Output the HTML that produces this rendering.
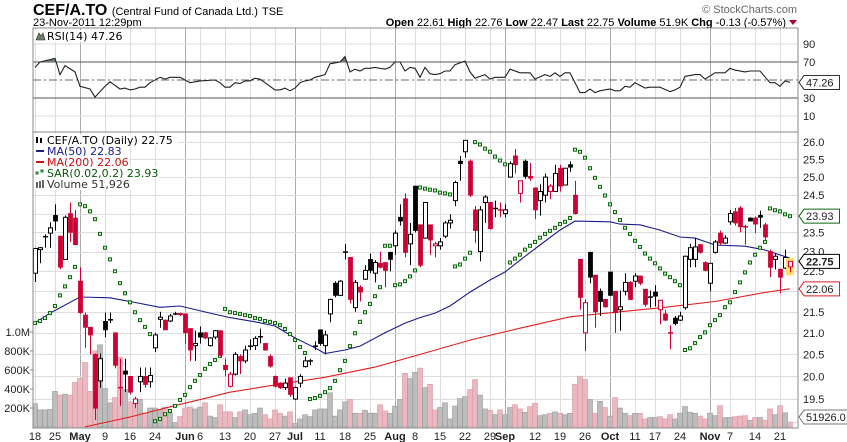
<!DOCTYPE html>
<html><head><meta charset="utf-8">
<style>
html,body{margin:0;padding:0;background:#fff;}
svg{display:block;font-family:"Liberation Sans",Arial,sans-serif;}
.lg{font-family:"DejaVu Sans",sans-serif;font-size:11px;}
.ax{font-size:11px;fill:#222;}
</style></head>
<body>
<svg id="chart" width="847" height="442" viewBox="0 0 847 442" xmlns="http://www.w3.org/2000/svg">
  <rect x="0" y="0" width="847" height="442" fill="#fff"/>
  <g>
    <text x="33" y="15" font-size="16" font-weight="bold" fill="#000">CEF/A.TO <tspan font-size="11" font-weight="normal">(Central Fund of Canada Ltd.)</tspan><tspan font-size="11" font-weight="normal" dx="4">TSE</tspan></text>
    <text x="33" y="26" font-size="11" fill="#000">23-Nov-2011 12:29pm</text>
    <text x="797" y="13" font-size="11" fill="#666" text-anchor="end">© StockCharts.com</text>
    <text x="786" y="26" font-size="11" fill="#000" text-anchor="end"><tspan font-weight="bold">Open</tspan> 22.61 <tspan font-weight="bold">High</tspan> 22.76 <tspan font-weight="bold">Low</tspan> 22.47 <tspan font-weight="bold">Last</tspan> 22.75 <tspan font-weight="bold">Volume</tspan> 51.9K <tspan font-weight="bold">Chg</tspan> -0.13 (-0.57%)</text>
    <polygon points="789,20 797,20 793,25" fill="#b00030"/>
  </g>
  <g id="grid"></g>
  <g id="rsi"></g>
  <g id="main"></g>
  <g id="labels"></g>
  <rect x="33" y="28" width="765" height="104" fill="none" stroke="#888"/>
  <rect x="33" y="132" width="765" height="296" fill="none" stroke="#888"/>
</svg>
<script>
const opens=[22.45,23.05,23.39,23.48,23.95,23.4,22.8,24.0,23.88,22.25,21.42,21.13,20.5,19.9,21.27,21.3,21.0,19.76,20.12,20.0,19.4,19.88,20.0,19.88,20.65,21.32,21.3,21.28,21.46,21.46,21.45,21.1,20.7,21.0,21.0,20.7,20.9,21.05,20.25,19.78,20.05,20.45,20.35,20.69,20.7,20.91,20.75,20.45,20.0,19.85,19.75,19.97,19.5,19.85,20.22,20.36,20.69,21.07,20.7,21.45,22.2,21.9,22.99,22.85,21.6,22.1,22.3,22.8,22.45,22.7,22.72,22.98,23.15,23.9,24.4,23.2,24.75,23.7,23.35,23.7,23.15,23.15,23.4,23.75,24.35,25.45,25.72,25.45,24.1,23.0,24.3,24.3,24.14,24.11,24.0,25.0,25.6,24.55,25.45,25.02,24.7,24.35,24.5,24.6,24.6,25.25,24.78,25.35,24.5,22.8,21.0,22.98,22.4,22.0,21.8,22.48,22.0,21.55,22.0,22.22,22.25,22.38,22.05,21.87,21.98,21.55,21.45,21.01,21.35,21.3,21.6,22.8,22.8,23.18,22.72,22.2,22.98,23.48,23.22,23.78,24.05,24.15,23.66,23.88,23.88,23.95,23.7,23.0,22.8,22.55,22.58,22.61];
const highs=[23.1,23.12,23.45,23.77,24.25,23.4,23.95,24.3,24.1,22.6,21.48,21.13,20.52,20.52,21.48,21.48,21.0,20.4,20.4,20.0,19.55,20.2,20.2,20.2,21.0,21.5,21.32,21.45,21.5,21.48,21.45,21.1,21.05,21.15,21.02,20.9,21.07,21.05,20.4,20.1,20.55,20.5,20.7,20.85,20.92,21.1,20.75,20.5,20.02,19.87,19.95,19.97,19.77,20.05,20.45,20.4,20.8,21.07,21.05,21.82,22.25,22.28,23.2,22.85,22.28,22.15,22.65,22.95,22.78,23.0,22.72,23.0,23.55,24.25,24.55,23.75,24.75,23.7,24.3,23.7,23.25,23.35,23.8,23.98,24.9,25.6,26.05,25.5,24.2,24.2,24.5,24.3,24.35,24.3,24.25,25.45,25.8,24.9,25.5,25.4,24.7,24.8,25.1,24.8,25.35,25.35,25.25,25.45,24.9,22.8,21.8,23.0,22.4,22.07,21.8,22.48,22.0,22.02,22.45,22.25,22.45,22.38,22.05,22.02,22.15,21.78,21.55,21.18,21.4,21.5,22.9,23.2,23.35,23.18,22.75,22.7,23.3,23.55,23.42,24.1,24.15,24.2,23.7,23.9,23.92,24.08,23.75,23.05,22.95,22.55,23.05,22.76];
const lows=[22.23,22.7,23.1,23.1,23.55,22.55,22.8,23.25,23.18,21.45,20.65,20.5,19.05,19.75,20.9,21.23,20.18,19.35,19.65,19.6,19.3,19.65,19.75,19.75,20.55,21.12,21.07,21.25,21.42,21.4,20.75,20.35,20.35,20.75,20.85,20.68,20.85,20.45,20.0,19.75,20.02,20.05,20.3,20.6,20.6,20.75,20.58,20.2,19.75,19.72,19.7,19.55,19.48,19.75,20.2,20.25,20.6,20.7,20.5,21.25,21.85,21.88,22.8,21.7,21.5,21.75,22.28,22.45,22.22,22.57,22.1,22.5,22.92,23.68,22.85,22.65,23.5,22.6,23.33,22.92,22.85,23.05,23.35,23.6,24.2,24.9,25.55,24.45,23.22,22.75,23.75,23.57,23.9,23.9,23.9,25.0,25.1,24.3,24.95,24.9,23.85,23.95,24.3,24.4,24.6,24.6,24.78,25.15,23.98,21.55,20.58,22.2,21.12,21.4,21.6,21.88,21.0,21.05,21.9,21.78,22.1,22.15,21.62,21.6,21.63,21.2,21.28,20.62,21.18,21.28,21.55,22.6,22.6,22.95,22.5,22.0,22.95,23.18,23.2,23.7,23.68,23.5,23.18,23.8,23.48,23.62,23.3,22.35,22.55,21.95,22.55,22.47];
const closes=[23.08,23.1,23.4,23.62,23.8,22.6,23.9,23.5,23.18,21.48,21.13,20.95,19.3,20.4,21.07,21.32,20.25,19.75,20.05,19.65,19.5,20.0,19.82,20.02,20.95,21.37,21.07,21.4,21.46,21.43,21.0,20.6,20.75,20.9,20.88,20.88,21.05,20.48,20.15,20.05,20.5,20.35,20.6,20.7,20.87,20.92,20.6,20.23,19.78,19.75,19.85,19.6,19.75,20.0,20.35,20.35,20.7,20.75,20.95,21.8,21.9,22.25,23.0,21.8,22.22,21.98,22.52,22.52,22.72,22.6,22.52,22.8,23.48,23.8,22.98,23.45,23.55,22.65,24.3,23.3,23.2,23.25,23.75,23.82,24.85,25.38,26.05,24.5,23.55,24.1,24.45,23.6,24.15,24.1,24.1,25.38,25.35,24.9,25.02,24.97,24.1,24.6,25.0,24.75,25.1,24.75,25.25,25.28,24.0,21.85,21.72,22.35,21.5,21.75,21.62,21.9,21.48,21.62,22.22,21.8,22.38,22.2,21.68,21.86,21.88,21.78,21.3,21.0,21.22,21.4,22.88,23.1,23.12,22.98,22.52,22.7,23.25,23.22,23.35,24.0,23.75,23.65,23.64,23.8,23.72,23.9,23.38,22.6,22.88,22.35,22.85,22.75];
const volumesK=[245,180,180,185,375,335,345,335,470,510,680,375,800,865,405,255,310,735,395,265,235,290,150,200,200,180,210,150,45,110,200,210,190,210,255,115,100,235,160,160,100,160,180,130,145,200,130,85,180,145,115,160,35,85,130,110,180,190,190,360,115,180,265,290,145,145,175,145,145,235,170,145,220,290,565,510,575,620,415,450,180,205,255,85,220,300,320,395,500,335,190,175,130,180,130,205,235,190,155,215,250,120,130,145,160,145,130,145,450,535,500,290,145,270,205,115,310,200,145,120,145,145,85,100,100,110,85,130,85,145,215,155,145,115,85,145,120,225,100,100,110,115,120,70,100,100,70,190,130,225,150,52];
const sarValues=[21.23,21.28,21.35,21.47,21.64,21.90,22.12,22.35,22.61,24.25,24.20,24.06,23.85,23.46,23.10,22.80,22.50,22.20,21.95,21.73,21.49,21.30,21.14,20.97,19.02,19.07,19.17,19.24,19.35,19.48,19.59,19.76,19.90,20.03,20.17,20.28,20.37,20.46,21.57,21.49,21.47,21.45,21.42,21.40,21.35,21.33,21.28,21.26,21.23,21.18,21.09,20.97,20.83,20.67,20.53,19.50,19.52,19.57,19.65,19.74,19.90,20.14,20.35,20.69,20.99,21.26,21.49,21.69,21.88,22.10,23.15,23.15,22.15,22.17,22.25,22.37,22.52,24.71,24.68,24.65,24.63,24.57,24.55,24.52,22.62,22.67,22.82,22.97,26.00,25.93,25.81,25.72,25.58,25.47,25.36,22.72,22.82,22.92,23.05,23.15,23.25,23.36,23.46,23.54,23.62,23.72,23.78,23.88,25.78,25.72,25.55,25.25,24.98,24.73,24.49,24.25,24.04,23.83,23.62,23.46,23.28,23.12,22.95,22.82,22.70,22.57,22.44,22.35,22.25,22.15,20.60,20.64,20.76,20.90,21.01,21.18,21.30,21.42,21.61,21.73,21.98,22.22,22.47,22.72,22.92,23.10,23.25,24.14,24.09,24.06,23.98,23.93];
const ma50Idx=[0,3,9,15,19,25,29,35,39,44,48,52,56,58,62,65,70,74,77,80,83,87,91,94,97,101,105,108,115,117,121,125,129,132,136,142,146,151];
const ma50Val=[21.23,21.47,21.86,21.84,21.75,21.61,21.64,21.47,21.36,21.26,21.16,20.88,20.65,20.52,20.60,20.69,21.0,21.23,21.36,21.47,21.64,21.98,22.28,22.48,22.78,23.17,23.56,23.8,23.78,23.72,23.7,23.56,23.38,23.35,23.17,23.14,23.04,22.83];
const ma200Idx=[10,19,27,35,39,48,58,68,78,87,97,107,117,126,136,146,151];
const ma200Val=[18.9,19.11,19.33,19.54,19.65,19.81,19.98,20.21,20.53,20.83,21.11,21.38,21.5,21.61,21.75,21.97,22.06];
const rsiIdx=[0,1,4,5,6,8,9,11,12,14,15,17,18,19,20,21,22,23,25,26,27,29,31,33,36,37,38,39,40,41,42,43,44,45,46,48,49,50,51,52,53,54,55,56,58,59,61,62,63,64,65,66,67,68,70,71,72,73,74,75,76,77,78,79,80,81,82,83,84,85,86,87,88,89,90,91,92,94,95,97,99,100,102,103,104,105,106,107,109,110,111,112,113,115,116,117,118,119,120,121,122,123,125,127,128,129,130,132,133,134,136,138,139,140,142,143,145,147,148,149,150,151];
const rsiVal=[64,70,74,56,66,59,43,40,31,43,48,40,41,39,40,42,42,47,53,51,53,53,47,49,50,47,42,42,47,46,49,49,52,51,47,39,39,41,38,41,47,49,50,53,56,68,70,76,59,62,60,63,63,64,62,64,70,70,60,64,63,53,64,57,56,57,60,60,67,69,71,59,52,54,56,51,53,53,62,58,58,51,56,54,58,54,58,58,36,36,40,36,38,40,38,38,43,42,47,44,41,42,42,37,39,42,54,56,56,51,58,58,63,61,59,60,60,47,47,43,49,47.26];
const tickIdx=[0,4,9,14,19,24,30,33,38,43,48,52,57,62,67,72,76,81,86,91,94,100,105,110,115,120,124,129,135,139,144,149];
const tickLabels=["18","25","May","9","16","24","Jun","6","13","20","27","Jul","11","18","25","Aug","8","15","22","29","Sep","12","19","26","Oct","11","17","24","Nov","7","14","21"];
const monthTicks=["May","Jun","Jul","Aug","Sep","Oct","Nov"];
const priceTicks=[19.5,20.0,20.5,21.0,21.5,22.0,22.5,23.0,23.5,24.0,24.5,25.0,25.5,26.0];
const rsiTicks=[90,70,30,10];
const volTicks=[200,400,600,800,1000];
const volTickLabels=["200K","400K","600K","800K","1.0M"];

const NS="http://www.w3.org/2000/svg";
const L=33,R=798,RT=28,RB=132,MT=132,MB=428;
function xOf(i){return 35+5*i;}
function yP(p){return 399-893*Math.log(p/19.5);}
function yR(r){return 80-0.9*(r-50);}
function yV(v){return 427-v*19/200;}
function mk(tag,attrs,parent){const e=document.createElementNS(NS,tag);for(const k in attrs)e.setAttribute(k,attrs[k]);parent.appendChild(e);return e;}
const svg=document.getElementById('chart');
const defs=mk('defs',{},svg);
const cpM=mk('clipPath',{id:'clipMain'},defs);mk('rect',{x:L,y:MT,width:R-L,height:MB-MT},cpM);
const cpR=mk('clipPath',{id:'clipRsiHi'},defs);mk('rect',{x:L,y:RT,width:R-L,height:yR(70)-RT},cpR);
const grid=document.getElementById('grid');
const rsiG=document.getElementById('rsi');
const main=document.getElementById('main');
const labels=document.getElementById('labels');
main.setAttribute('clip-path','url(#clipMain)');

tickIdx.forEach((ti,k)=>{
  const x=xOf(ti)+0.5;const isM=monthTicks.includes(tickLabels[k]);
  const gl=mk('line',{x1:x,x2:x,y1:RT,y2:MB,stroke:isM?'#aaa':'#ddd','stroke-width':1},grid);
  
  
  const t=mk('text',{x:xOf(ti),y:440,'text-anchor':'middle',class:'ax','font-weight':isM?'bold':'normal'},labels);
  t.textContent=tickLabels[k];
  
  
});
priceTicks.concat([19.0]).forEach(p=>{
  const y=Math.round(yP(p))+0.5;
  const gl=mk('line',{x1:L,x2:R,y1:y,y2:y,stroke:'#ddd'},grid);
  
  
});
priceTicks.forEach(p=>{
  const t=mk('text',{x:803,y:yP(p)+4,class:'ax'},labels);
  t.textContent=p.toFixed(1);
  
  
});
[90,10].forEach(r=>{const gl=mk('line',{x1:L,x2:R,y1:yR(r),y2:yR(r),stroke:'#ddd'},grid);
  
  });
[70,30].forEach(r=>{const gl=mk('line',{x1:L,x2:R,y1:yR(r),y2:yR(r),stroke:'#555'},rsiG);
  
  });
const mid=mk('line',{x1:L,x2:R,y1:yR(50),y2:yR(50),stroke:'#666','stroke-dasharray':'8,3,2,3'},rsiG);


rsiTicks.forEach(r=>{const t=mk('text',{x:803,y:yR(r)+4,class:'ax'},labels);t.textContent=String(r);
  
  });
const rpts=rsiIdx.map((ri,k)=>xOf(ri)+','+yR(rsiVal[k]).toFixed(1));
const rfill=mk('polygon',{points:xOf(rsiIdx[0])+','+yR(70)+' '+rpts.join(' ')+' '+xOf(rsiIdx[rsiIdx.length-1])+','+yR(70),fill:'#6f7f6f','clip-path':'url(#clipRsiHi)'},rsiG);


const rline=mk('polyline',{points:rpts.join(' '),fill:'none',stroke:'#222','stroke-width':1.1},rsiG);



volumesK.forEach((v,i)=>{
  const down=i>0&&closes[i]<closes[i-1];
  const y=yV(v);
  const b=mk('rect',{x:xOf(i)-2.5,y:y,width:5,height:427-y,fill:down?'#ebb8bf':'#bdbdbd',stroke:down?'#d99aa4':'#999','stroke-width':0.6},main);
  
  
});
function maLine(idx,val,color,name){
  const pl=mk('polyline',{points:idx.map((ii,k)=>xOf(ii)+','+yP(val[k]).toFixed(1)).join(' '),fill:'none',stroke:color,'stroke-width':1.1},main);
  
  
}
maLine(ma200Idx,ma200Val,'#e02020','ma200-line');
maLine(ma50Idx,ma50Val,'#1c1c8c','ma50-line');
sarValues.forEach((s,i)=>{
  const d=mk('rect',{x:xOf(i)-1.5,y:yP(s)-1.5,width:3,height:3,fill:'#cfe8cf',stroke:'#0a6a0a','stroke-width':1},main);
  
  
});
const RED='#cc0033';
closes.forEach((c,i)=>{
  const o=opens[i],h=highs[i],l=lows[i];
  const col=(i>0&&c<closes[i-1])?RED:'#000';
  const x=xOf(i);
  const g=mk('g',{},main);
  
  
  if(i===closes.length-1){mk('rect',{x:x-4,y:yP(h)-3,width:8,height:yP(l)-yP(h)+6,fill:'#ffe066'},g);}
  mk('line',{x1:x+0.5,x2:x+0.5,y1:yP(h),y2:yP(l),stroke:col,'stroke-width':1},g);
  const yt=Math.min(yP(o),yP(c)),yb=Math.max(yP(o),yP(c));
  if(yb-yt<1.2){mk('line',{x1:x-2,x2:x+3,y1:yt+0.5,y2:yt+0.5,stroke:col,'stroke-width':1.5},g);}
  else if(c<o){mk('rect',{x:x-1.5,y:yt,width:4,height:yb-yt,fill:col,stroke:col,'stroke-width':0.8},g);}
  else{mk('rect',{x:x-1.5,y:yt,width:4,height:yb-yt,fill:'#fff',stroke:col,'stroke-width':1},g);}
});

volTicks.forEach((v,k)=>{
  const t=mk('text',{x:30,y:yV(v)+4,'text-anchor':'end',class:'ax'},labels);t.textContent=volTickLabels[k];
  
  
  mk('line',{x1:30,x2:33,y1:yV(v),y2:yV(v),stroke:'#888'},labels);
});

function tag(y,txt,border,bold,name){
  const g=mk('g',{},labels);
  
  
  const w=txt.length*6.3+4;
  mk('polygon',{points:`799,${y} 804,${y-7} ${804+w},${y-7} ${804+w},${y+7} 804,${y+7}`,fill:'#fff',stroke:border,'stroke-width':1},g);
  const t=mk('text',{x:806,y:y+4,class:'ax','font-weight':bold?'bold':'normal'},g);t.textContent=txt;
}
tag(yR(47.26),'47.26','#333',false,'rsi-value-tag');
tag(yP(sarValues[sarValues.length-1]),'23.93','#0a6a0a',false,'sar-value-tag');
tag(yP(ma200Val[ma200Val.length-1]),'22.06','#e02020',false,'ma200-value-tag');
tag(yP(closes[closes.length-1]),'22.75','#000',true,'last-price-tag');
tag(yV(volumesK[volumesK.length-1])-5,'51926.0','#777',false,'volume-value-tag');

function legendLine(y,txt,color,name,w){
  const g=mk('g',{},labels);
  
  
  mk('rect',{x:34,y:y-10,width:w,height:12,fill:'#fff'},g);
  const t=mk('text',{x:47,y:y,class:'lg',fill:color},g);t.textContent=txt;
  return g;
}
const gR=legendLine(40,'RSI(14) 47.26','#000','rsi-legend',96);
mk('polygon',{points:'36,40 39,33 41,36 43,33 45,40',fill:'#6f7f6f',stroke:'#222','stroke-width':0.6},gR);
const g1=legendLine(144,'CEF/A.TO (Daily) 22.75','#000','price-legend',144);
mk('rect',{x:36,y:137,width:2,height:6,fill:'#000'},g1);mk('rect',{x:40,y:138,width:2,height:5,fill:'#000'},g1);
const g2=legendLine(155,'MA(50) 22.83','#1c1c8c','ma50-legend',90);
mk('line',{x1:36,x2:44,y1:151,y2:151,stroke:'#1c1c8c','stroke-width':2},g2);
const g3=legendLine(166,'MA(200) 22.06','#d01010','ma200-legend',95);
mk('line',{x1:36,x2:44,y1:162,y2:162,stroke:'#d01010','stroke-width':2},g3);
const g4=legendLine(177,'SAR(0.02,0.2) 23.93','#0a5a0a','sar-legend',125);
mk('rect',{x:36,y:172,width:2,height:2,fill:'none',stroke:'#0a6a0a'},g4);mk('rect',{x:41,y:170,width:2,height:2,fill:'none',stroke:'#0a6a0a'},g4);
const g5=legendLine(188,'Volume 51,926','#333','volume-legend',98);
[0,3,6].forEach((dx,k)=>mk('rect',{x:36+dx,y:182-k,width:2,height:6+k,fill:'#666'},g5));
</script>
</body></html>
